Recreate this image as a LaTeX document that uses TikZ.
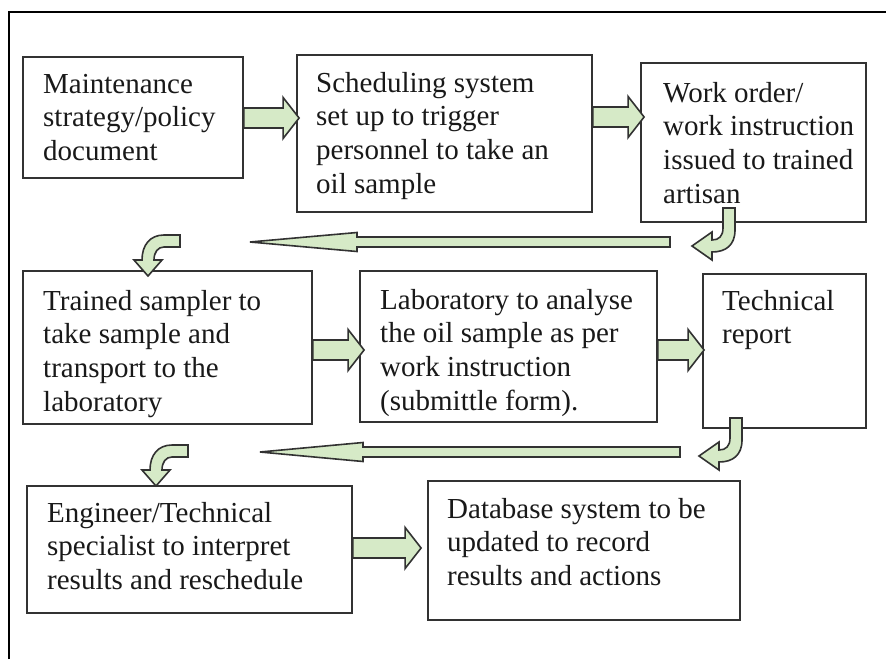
\documentclass[tikz,border=0pt]{standalone}
\usepackage{fontspec}
\setmainfont{Liberation Serif}
\usetikzlibrary{calc}

\definecolor{arrowfill}{RGB}{214,234,199}
\definecolor{edgegray}{RGB}{50,50,50}
\definecolor{inkgray}{RGB}{25,25,25}

% multi-line label whose baseline is that of its first line
\newcommand\lines[1]{\begin{tabular}[t]{@{}l@{}}#1\end{tabular}}

% straight block arrow from the east side of #1 to the west side of #2;
% #3 shifts it vertically, #4 moves the tip horizontally
\newcommand\flowarrow[4]{%
  \filldraw[blockarrow] let \p1=($(#1.east)+(0,#3)$), \p2=($(#2.west)+(#4,0)$) in
    (\x1,\y1+10pt) -- (\x2-16pt,\y1+10pt) -- (\x2-16pt,\y1+20.5pt) -- (\x2,\y1)
    -- (\x2-16pt,\y1-20.5pt) -- (\x2-16pt,\y1-10pt) -- (\x1,\y1-10pt) -- cycle;}

% long slender return arrow from tail #1 to tip #2 (same height)
\newcommand\returnarrow[3]{% #3 = x of the head base
  \filldraw[blockarrow] let \p1=(#1), \p2=(#2) in
    (\x1,\y1+5pt) -- (#3pt,\y1+5pt) -- (#3pt,\y1+9.5pt) -- (\x2,\y2)
    -- (#3pt,\y1-9.5pt) -- (#3pt,\y1-5pt) -- (\x1,\y1-5pt) -- cycle;}

% bent arrow: down, then turning to the left
\newcommand\bendleft[1]{%
  \filldraw[blockarrow, shift={(#1)}]
    (6,0) -- (6,22) .. controls (6,37) and (-3,44) .. (-17,44)
    -- (-17,52) -- (-37,38) -- (-17,24) -- (-17,32)
    .. controls (-10,32) and (-6,28) .. (-6,20) -- (-6,0) -- cycle;}

% bent arrow: leftwards, then turning down
\newcommand\benddown[1]{%
  \filldraw[blockarrow, shift={(#1)}]
    (0,-6) -- (-16,-6) .. controls (-30,-6) and (-38,4) .. (-38,19)
    -- (-46,19) -- (-32,35) -- (-18,19) -- (-26,19)
    .. controls (-26,11) and (-22,6) .. (-16,6) -- (0,6) -- cycle;}

\begin{document}
\begin{tikzpicture}[x=1pt, y=-1pt,
  stepbox/.style={draw=edgegray, line width=1.8pt, rectangle, inner sep=0pt},
  txt/.style={inner sep=0pt, anchor=base west, text=inkgray,
    font=\fontsize{29}{33.8}\selectfont},
  blockarrow/.style={draw=edgegray, fill=arrowfill, line width=1.6pt, line join=miter},
  frameline/.style={draw=black, line width=1.3pt}]

\useasboundingbox (0,0) rectangle (886,659);
\fill[white] (0,0) rectangle (886,659);

% outer frame (open to the right and bottom)
\draw[frameline] (9,659) -- (9,12) -- (886,12);

% ---- boxes ----
\node[stepbox, minimum width=220pt, minimum height=121pt] (b1) at (133,117.5) {};
\node[stepbox, minimum width=295pt, minimum height=157pt] (b2) at (444.5,133.5) {};
\node[stepbox, minimum width=225pt, minimum height=159pt] (b3) at (753.5,142.5) {};
\node[stepbox, minimum width=289pt, minimum height=153pt] (b4) at (167.5,347.5) {};
\node[stepbox, minimum width=297pt, minimum height=151pt] (b5) at (508.5,346.5) {};
\node[stepbox, minimum width=163pt, minimum height=154pt] (b6) at (784.5,351) {};
\node[stepbox, minimum width=325pt, minimum height=127pt] (b7) at (189.5,549.5) {};
\node[stepbox, minimum width=312pt, minimum height=139pt] (b8) at (584,550.5) {};

% ---- texts ----
\node[txt] (t1) at (43,93) {\lines{Maintenance\\strategy/policy\\document}};
\node[txt] (t2) at (316,92) {\lines{Scheduling system\\set up to trigger\\personnel to take an\\oil sample}};
\node[txt] (t3) at (663,102) {\lines{Work order/\\work instruction\\issued to trained\\artisan}};
\node[txt] (t4) at (43,310) {\lines{Trained sampler to\\take sample and\\transport to the\\laboratory}};
\node[txt] (t5) at (380,309) {\lines{Laboratory to analyse\\the oil sample as per\\work instruction\\(submittle form).}};
\node[txt] (t6) at (722,310) {\lines{Technical\\report}};
\node[txt] (t7) at (47,522) {\lines{Engineer/Technical\\specialist to interpret\\results and reschedule}};
\node[txt] (t8) at (447,518) {\lines{Database system to be\\updated to record\\results and actions}};

% ---- straight flow arrows ----
\flowarrow{b1}{b2}{0.5}{3}
\flowarrow{b2}{b3}{-16.5}{4}
\flowarrow{b4}{b5}{2.5}{5}
\flowarrow{b5}{b6}{3.5}{2}
\flowarrow{b7}{b8}{-1.5}{-6}

% ---- return arrows between rows ----
\coordinate (r1tail) at (670,242);
\coordinate (r1tip)  at (250,242);
\coordinate (r2tail) at (680,452);
\coordinate (r2tip)  at (260,452);
\returnarrow{r1tail}{r1tip}{357}
\returnarrow{r2tail}{r2tip}{363}

% ---- bent arrows ----
\coordinate (k1) at (729,208);
\coordinate (k2) at (180,241);
\coordinate (k3) at (736,418);
\coordinate (k4) at (188,451);
\bendleft{k1}
\benddown{k2}
\bendleft{k3}
\benddown{k4}

\end{tikzpicture}
\end{document}
